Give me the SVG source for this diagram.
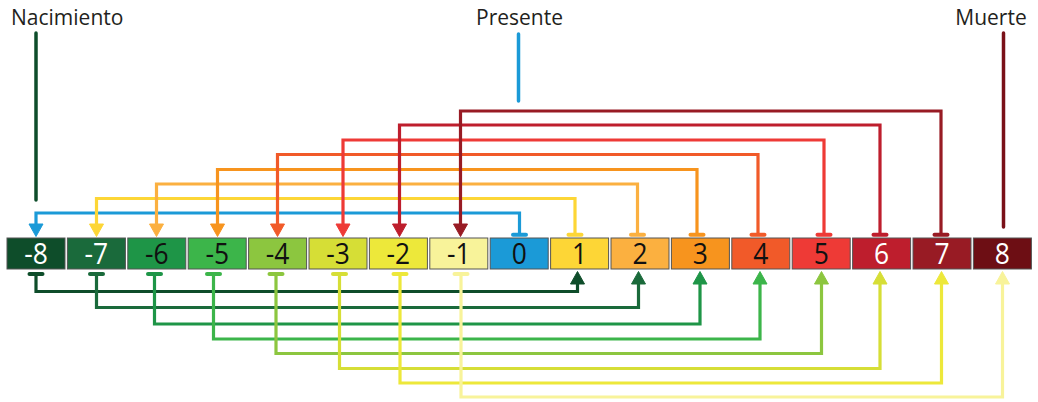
<svg xmlns="http://www.w3.org/2000/svg" width="1038" height="402" viewBox="0 0 1038 402">
<style>
.box{stroke:#555;stroke-width:1}
.num{font-family:"Open Sans","Liberation Sans",sans-serif;font-size:30px;text-anchor:middle}
.w{fill:#fff}.k{fill:#111}
.lbl{font-family:"Open Sans","Liberation Sans",sans-serif;font-size:21px;fill:#231f20}
.c{fill:none;stroke-width:3.2;stroke-linejoin:miter}
.tee{stroke-width:4;stroke-linecap:round}
.lead{stroke-width:3.5;stroke-linecap:round}
</style>
<rect width="1038" height="402" fill="#fff"/>
<g id="labels">
<text class="lbl" x="11" y="25">Nacimiento</text>
<text class="lbl" x="519.5" y="25" text-anchor="middle">Presente</text>
<text class="lbl" x="991" y="25" text-anchor="middle">Muerte</text>
<line class="lead" x1="36" y1="33" x2="36" y2="200" stroke="#0e4d2a"/>
<line class="lead" x1="518.5" y1="34" x2="518.5" y2="101" stroke="#1b9ad7"/>
<line class="lead" x1="1003.5" y1="33" x2="1003.5" y2="227" stroke="#7a1018"/>
</g>
<g id="connectors">
<g stroke="#1b9ad7" fill="#1b9ad7"><path class="c" d="M519.5 234.7V213H36V225"/><line class="tee" x1="513" y1="234.7" x2="526" y2="234.7"/><polygon points="29,224 43,224 36,236.5"/></g>
<g stroke="#fdd636" fill="#fdd636"><path class="c" d="M575 234.7V198.5H96.5V225"/><line class="tee" x1="568.5" y1="234.7" x2="581.5" y2="234.7"/><polygon points="89.5,224 103.5,224 96.5,236.5"/></g>
<g stroke="#fbb040" fill="#fbb040"><path class="c" d="M637.5 234.7V184H156.5V225"/><line class="tee" x1="631" y1="234.7" x2="644" y2="234.7"/><polygon points="149.5,224 163.5,224 156.5,236.5"/></g>
<g stroke="#f7941e" fill="#f7941e"><path class="c" d="M697 234.7V169.5H217.5V225"/><line class="tee" x1="690.5" y1="234.7" x2="703.5" y2="234.7"/><polygon points="210.5,224 224.5,224 217.5,236.5"/></g>
<g stroke="#f15a29" fill="#f15a29"><path class="c" d="M758 234.7V154.5H277.5V225"/><line class="tee" x1="751.5" y1="234.7" x2="764.5" y2="234.7"/><polygon points="270.5,224 284.5,224 277.5,236.5"/></g>
<g stroke="#ee3a36" fill="#ee3a36"><path class="c" d="M824 234.7V140H343V225"/><line class="tee" x1="817.5" y1="234.7" x2="830.5" y2="234.7"/><polygon points="336,224 350,224 343,236.5"/></g>
<g stroke="#be1e2d" fill="#be1e2d"><path class="c" d="M880 234.7V125H399.5V225"/><line class="tee" x1="873.5" y1="234.7" x2="886.5" y2="234.7"/><polygon points="392.5,224 406.5,224 399.5,236.5"/></g>
<g stroke="#981b24" fill="#981b24"><path class="c" d="M941 234.7V111H460.5V225"/><line class="tee" x1="934.5" y1="234.7" x2="947.5" y2="234.7"/><polygon points="453.5,224 467.5,224 460.5,236.5"/></g>
<g stroke="#0e4d2a" fill="#0e4d2a"><path class="c" d="M36 274V291.5H577.5V283"/><line class="tee" x1="29.5" y1="274" x2="42.5" y2="274"/><polygon points="570.5,284 584.5,284 577.5,271.5"/></g>
<g stroke="#1a6a3b" fill="#1a6a3b"><path class="c" d="M96.5 274V307.5H638.5V283"/><line class="tee" x1="90" y1="274" x2="103" y2="274"/><polygon points="631.5,284 645.5,284 638.5,271.5"/></g>
<g stroke="#1e9547" fill="#1e9547"><path class="c" d="M154.5 274V324H700V283"/><line class="tee" x1="148" y1="274" x2="161" y2="274"/><polygon points="693,284 707,284 700,271.5"/></g>
<g stroke="#3cb54a" fill="#3cb54a"><path class="c" d="M213.5 274V339H760V283"/><line class="tee" x1="207" y1="274" x2="220" y2="274"/><polygon points="753,284 767,284 760,271.5"/></g>
<g stroke="#8cc63f" fill="#8cc63f"><path class="c" d="M276 274V353.5H821.5V283"/><line class="tee" x1="269.5" y1="274" x2="282.5" y2="274"/><polygon points="814.5,284 828.5,284 821.5,271.5"/></g>
<g stroke="#d6de36" fill="#d6de36"><path class="c" d="M339.5 274V368.5H880V283"/><line class="tee" x1="333" y1="274" x2="346" y2="274"/><polygon points="873,284 887,284 880,271.5"/></g>
<g stroke="#ede83a" fill="#ede83a"><path class="c" d="M400 274V383H941.5V283"/><line class="tee" x1="393.5" y1="274" x2="406.5" y2="274"/><polygon points="934.5,284 948.5,284 941.5,271.5"/></g>
<g stroke="#f8f39a" fill="#f8f39a"><path class="c" d="M461 274V397H1002.5V283"/><line class="tee" x1="454.5" y1="274" x2="467.5" y2="274"/><polygon points="995.5,284 1009.5,284 1002.5,271.5"/></g>
</g>
<g id="n-8"><rect class="box" x="7" y="238" width="58" height="31" fill="#0e4d2a"/><text class="num w" transform="translate(36 264) scale(0.88 1)">-8</text></g>
<g id="n-7"><rect class="box" x="67.4" y="238" width="58" height="31" fill="#1a6a3b"/><text class="num w" transform="translate(96.4 264) scale(0.88 1)">-7</text></g>
<g id="n-6"><rect class="box" x="127.8" y="238" width="58" height="31" fill="#1e9547"/><text class="num k" transform="translate(156.8 264) scale(0.88 1)">-6</text></g>
<g id="n-5"><rect class="box" x="188.2" y="238" width="58" height="31" fill="#3cb54a"/><text class="num k" transform="translate(217.2 264) scale(0.88 1)">-5</text></g>
<g id="n-4"><rect class="box" x="248.6" y="238" width="58" height="31" fill="#8cc63f"/><text class="num k" transform="translate(277.6 264) scale(0.88 1)">-4</text></g>
<g id="n-3"><rect class="box" x="309" y="238" width="58" height="31" fill="#d6de36"/><text class="num k" transform="translate(338 264) scale(0.88 1)">-3</text></g>
<g id="n-2"><rect class="box" x="369.4" y="238" width="58" height="31" fill="#ede83a"/><text class="num k" transform="translate(398.4 264) scale(0.88 1)">-2</text></g>
<g id="n-1"><rect class="box" x="429.8" y="238" width="58" height="31" fill="#f8f39a"/><text class="num k" transform="translate(458.8 264) scale(0.88 1)">-1</text></g>
<g id="n0"><rect class="box" x="490.2" y="238" width="58" height="31" fill="#1b9ad7"/><text class="num k" transform="translate(519.2 264) scale(0.88 1)">0</text></g>
<g id="n1"><rect class="box" x="550.6" y="238" width="58" height="31" fill="#fdd636"/><text class="num k" transform="translate(579.6 264) scale(0.88 1)">1</text></g>
<g id="n2"><rect class="box" x="611" y="238" width="58" height="31" fill="#fbb040"/><text class="num k" transform="translate(640 264) scale(0.88 1)">2</text></g>
<g id="n3"><rect class="box" x="671.4" y="238" width="58" height="31" fill="#f7941e"/><text class="num k" transform="translate(700.4 264) scale(0.88 1)">3</text></g>
<g id="n4"><rect class="box" x="731.8" y="238" width="58" height="31" fill="#f15a29"/><text class="num k" transform="translate(760.8 264) scale(0.88 1)">4</text></g>
<g id="n5"><rect class="box" x="792.2" y="238" width="58" height="31" fill="#ee3a36"/><text class="num k" transform="translate(821.2 264) scale(0.88 1)">5</text></g>
<g id="n6"><rect class="box" x="852.6" y="238" width="58" height="31" fill="#be1e2d"/><text class="num w" transform="translate(881.6 264) scale(0.88 1)">6</text></g>
<g id="n7"><rect class="box" x="913" y="238" width="58" height="31" fill="#981b24"/><text class="num w" transform="translate(942 264) scale(0.88 1)">7</text></g>
<g id="n8"><rect class="box" x="973.4" y="238" width="58" height="31" fill="#6d0e14"/><text class="num w" transform="translate(1002.4 264) scale(0.88 1)">8</text></g>
</svg>
